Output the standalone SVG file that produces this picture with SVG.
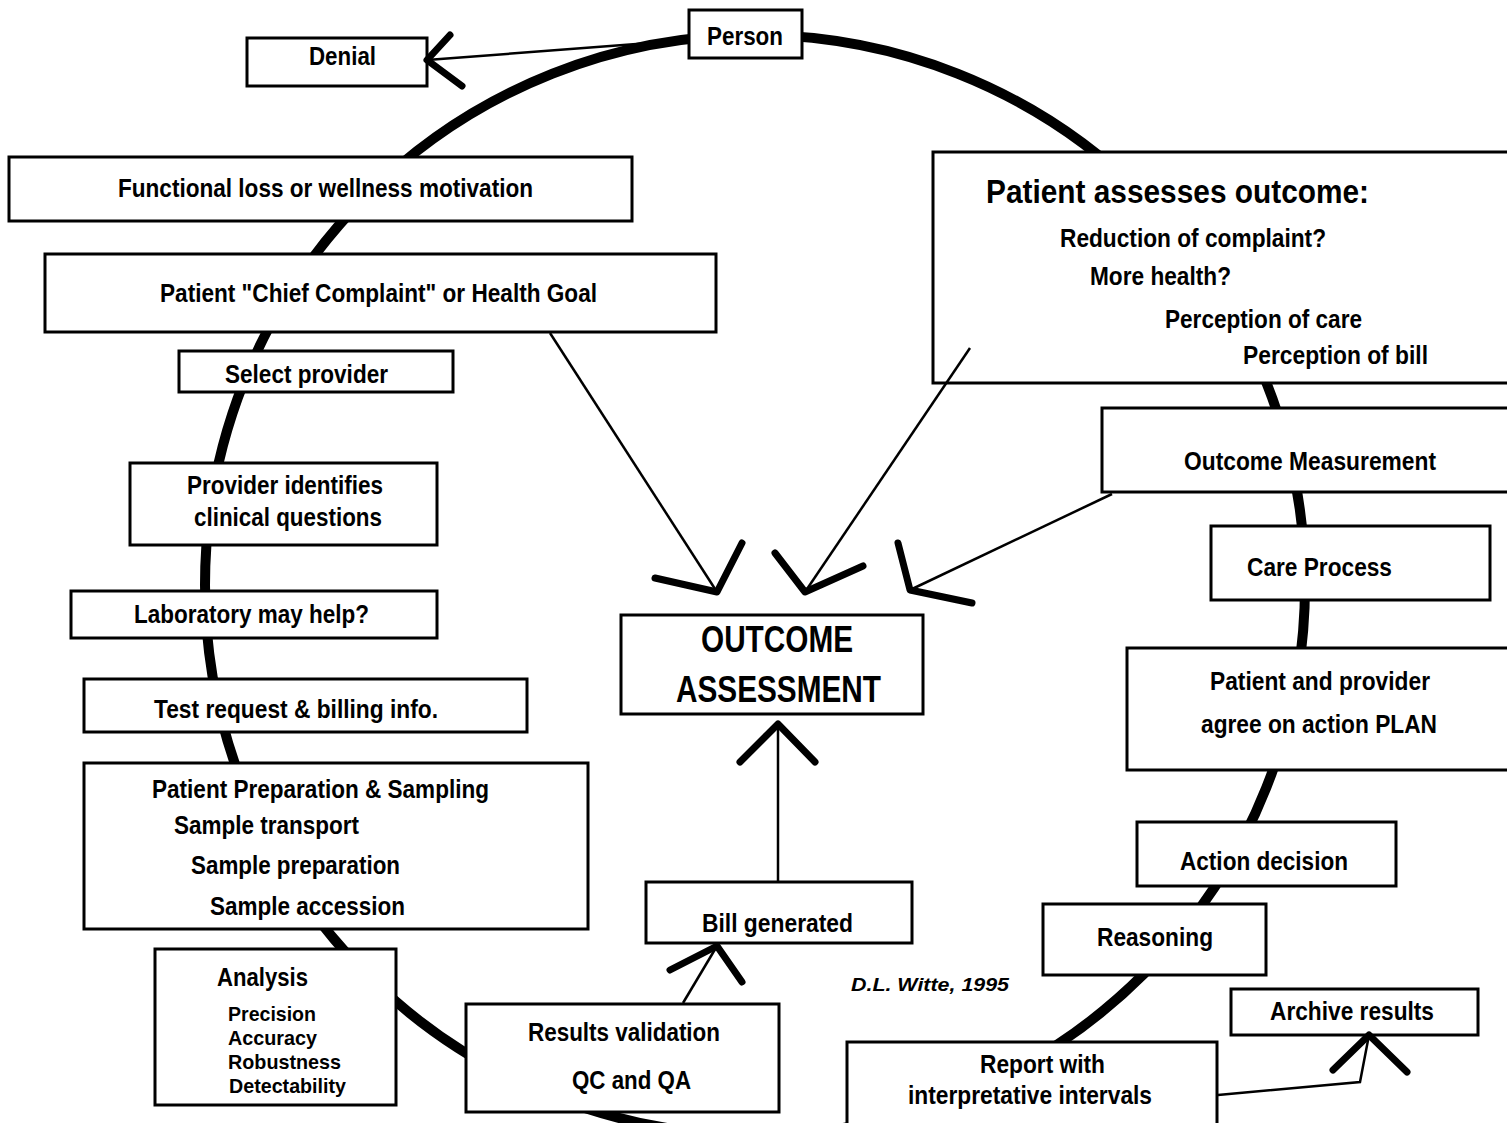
<svg xmlns="http://www.w3.org/2000/svg" width="1507" height="1123" viewBox="0 0 1507 1123">
<style>
.bx{fill:#fff;stroke:#000;stroke-width:3}
.t{font-family:"Liberation Sans",Arial,sans-serif;font-weight:bold;font-size:26px;fill:#000}
.s{font-size:21px}
.b{font-size:36px}
.ln{fill:none;stroke:#000;stroke-width:2.5}
.ah{fill:none;stroke:#000;stroke-width:7;stroke-linecap:round;stroke-linejoin:round}
</style>
<rect width="1507" height="1123" fill="#fff"/>
<g id="cycle">
<circle cx="755" cy="585" r="550" fill="none" stroke="#000" stroke-width="10"/>
</g>
<g id="person"><rect class="bx" x="689" y="10" width="113" height="48"/><text class="t" x="707" y="45" textLength="76" lengthAdjust="spacingAndGlyphs">Person</text></g>
<g id="denial"><rect class="bx" x="247" y="38" width="180" height="48"/><text class="t" x="309" y="65" textLength="67" lengthAdjust="spacingAndGlyphs">Denial</text></g>
<g id="functional"><rect class="bx" x="9" y="157" width="623" height="64"/><text class="t" x="118" y="197" textLength="415" lengthAdjust="spacingAndGlyphs">Functional loss or wellness motivation</text></g>
<g id="complaint"><rect class="bx" x="45" y="254" width="671" height="78"/><text class="t" x="160" y="302" textLength="437" lengthAdjust="spacingAndGlyphs">Patient "Chief Complaint" or Health Goal</text></g>
<g id="select"><rect class="bx" x="179" y="351" width="274" height="41"/><text class="t" x="225" y="383" textLength="163" lengthAdjust="spacingAndGlyphs">Select provider</text></g>
<g id="provider"><rect class="bx" x="130" y="463" width="307" height="82"/><text class="t" x="187" y="494" textLength="196" lengthAdjust="spacingAndGlyphs">Provider identifies</text><text class="t" x="194" y="526" textLength="188" lengthAdjust="spacingAndGlyphs">clinical questions</text></g>
<g id="lab"><rect class="bx" x="71" y="591" width="366" height="47"/><text class="t" x="134" y="623" textLength="235" lengthAdjust="spacingAndGlyphs">Laboratory may help?</text></g>
<g id="test"><rect class="bx" x="84" y="679" width="443" height="53"/><text class="t" x="154" y="718" textLength="284" lengthAdjust="spacingAndGlyphs">Test request &amp; billing info.</text></g>
<g id="prep"><rect class="bx" x="84" y="763" width="504" height="166"/>
<text class="t" x="152" y="798" textLength="337" lengthAdjust="spacingAndGlyphs">Patient Preparation &amp; Sampling</text>
<text class="t" x="174" y="834" textLength="185" lengthAdjust="spacingAndGlyphs">Sample transport</text>
<text class="t" x="191" y="874" textLength="209" lengthAdjust="spacingAndGlyphs">Sample preparation</text>
<text class="t" x="210" y="915" textLength="195" lengthAdjust="spacingAndGlyphs">Sample accession</text></g>
<g id="analysis"><rect class="bx" x="155" y="949" width="241" height="156"/>
<text class="t" x="217" y="986" textLength="91" lengthAdjust="spacingAndGlyphs">Analysis</text>
<text class="t s" x="228" y="1021" textLength="88" lengthAdjust="spacingAndGlyphs">Precision</text>
<text class="t s" x="228" y="1045" textLength="89" lengthAdjust="spacingAndGlyphs">Accuracy</text>
<text class="t s" x="228" y="1069" textLength="113" lengthAdjust="spacingAndGlyphs">Robustness</text>
<text class="t s" x="229" y="1093" textLength="117" lengthAdjust="spacingAndGlyphs">Detectability</text></g>
<g id="results"><rect class="bx" x="466" y="1004" width="313" height="108"/><text class="t" x="528" y="1041" textLength="192" lengthAdjust="spacingAndGlyphs">Results validation</text><text class="t" x="572" y="1089" textLength="119" lengthAdjust="spacingAndGlyphs">QC and QA</text></g>
<g id="bill"><rect class="bx" x="646" y="882" width="266" height="61"/><text class="t" x="702" y="932" textLength="151" lengthAdjust="spacingAndGlyphs">Bill generated</text></g>
<g id="outcome"><rect class="bx" x="621" y="615" width="302" height="99"/><text class="t b" x="701" y="652" textLength="152" lengthAdjust="spacingAndGlyphs">OUTCOME</text><text class="t b" x="676" y="702" textLength="205" lengthAdjust="spacingAndGlyphs">ASSESSMENT</text></g>
<g id="assess"><rect class="bx" x="933" y="152" width="590" height="231"/>
<text class="t" x="986" y="203" style="font-size:34px" textLength="383" lengthAdjust="spacingAndGlyphs">Patient assesses outcome:</text>
<text class="t" x="1060" y="247" textLength="266" lengthAdjust="spacingAndGlyphs">Reduction of complaint?</text>
<text class="t" x="1090" y="285" textLength="141" lengthAdjust="spacingAndGlyphs">More health?</text>
<text class="t" x="1165" y="328" textLength="197" lengthAdjust="spacingAndGlyphs">Perception of care</text>
<text class="t" x="1243" y="364" textLength="185" lengthAdjust="spacingAndGlyphs">Perception of bill</text></g>
<g id="measure"><rect class="bx" x="1102" y="408" width="420" height="84"/><text class="t" x="1184" y="470" textLength="252" lengthAdjust="spacingAndGlyphs">Outcome Measurement</text></g>
<g id="care"><rect class="bx" x="1211" y="526" width="279" height="74"/><text class="t" x="1247" y="576" textLength="145" lengthAdjust="spacingAndGlyphs">Care Process</text></g>
<g id="plan"><rect class="bx" x="1127" y="648" width="395" height="122"/><text class="t" x="1210" y="690" textLength="220" lengthAdjust="spacingAndGlyphs">Patient and provider</text><text class="t" x="1201" y="733" textLength="236" lengthAdjust="spacingAndGlyphs">agree on action PLAN</text></g>
<g id="action"><rect class="bx" x="1137" y="822" width="259" height="64"/><text class="t" x="1180" y="870" textLength="168" lengthAdjust="spacingAndGlyphs">Action decision</text></g>
<g id="reasoning"><rect class="bx" x="1043" y="904" width="223" height="71"/><text class="t" x="1097" y="946" textLength="116" lengthAdjust="spacingAndGlyphs">Reasoning</text></g>
<g id="archive"><rect class="bx" x="1231" y="989" width="247" height="46"/><text class="t" x="1270" y="1020" textLength="164" lengthAdjust="spacingAndGlyphs">Archive results</text></g>
<g id="report"><rect class="bx" x="847" y="1042" width="370" height="90"/><text class="t" x="980" y="1073" textLength="125" lengthAdjust="spacingAndGlyphs">Report with</text><text class="t" x="908" y="1104" textLength="244" lengthAdjust="spacingAndGlyphs">interpretative intervals</text></g>
<g id="credit"><text x="851" y="991" textLength="158" lengthAdjust="spacingAndGlyphs" style="font-family:'Liberation Sans',Arial,sans-serif;font-weight:bold;font-style:italic;font-size:18px">D.L. Witte, 1995</text></g>
<g id="connectors">
<line class="ln" x1="689" y1="40" x2="427" y2="60"/>
<polyline class="ah" points="450,35 427,60 462,86"/>
<line class="ln" x1="550" y1="333" x2="717" y2="592"/>
<polyline class="ah" points="655,578 717,592 742,543"/>
<line class="ln" x1="970" y1="348" x2="805" y2="592"/>
<polyline class="ah" points="775,553 805,592 863,566"/>
<line class="ln" x1="1112" y1="494" x2="910" y2="590"/>
<polyline class="ah" points="898,543 910,590 972,603"/>
<line class="ln" x1="778" y1="881" x2="778" y2="726"/>
<polyline class="ah" points="740,762 778,724 815,762"/>
<line class="ln" x1="683" y1="1003" x2="717" y2="946"/>
<polyline class="ah" points="670,970 717,946 742,982"/>
<polyline class="ln" points="1218,1095 1360,1082 1369,1035"/>
<polyline class="ah" points="1333,1070 1369,1035 1407,1072"/>
</g>
</svg>
